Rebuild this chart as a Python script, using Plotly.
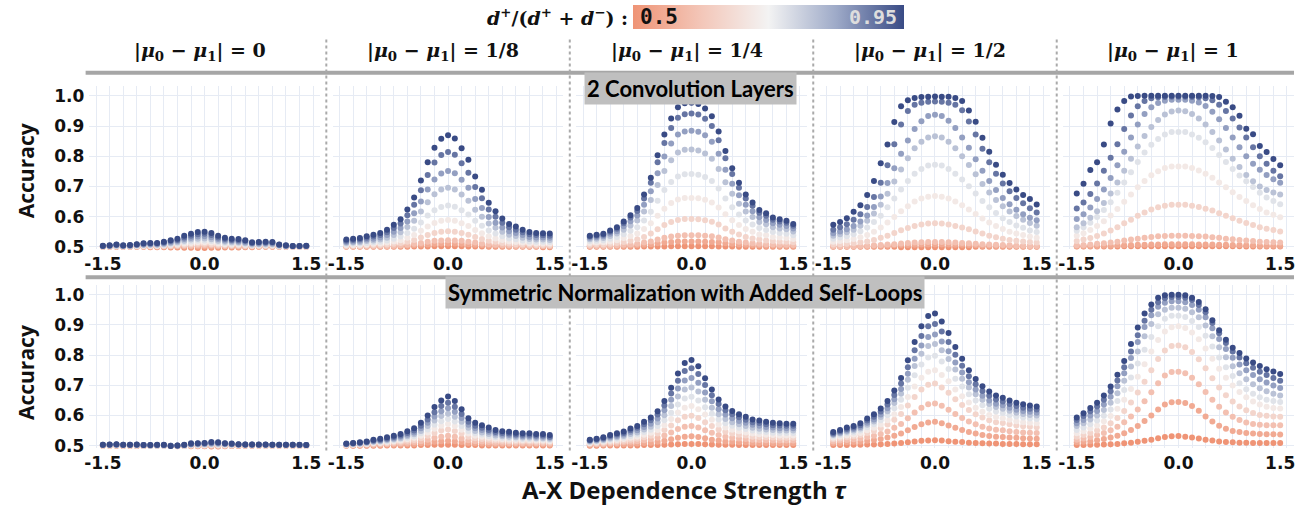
import plotly.graph_objects as go

# ---------------- data ----------------
tau = [-1.5, -1.4, -1.3, -1.2, -1.1, -1.0, -0.9, -0.8, -0.7, -0.6, -0.5, -0.4, -0.3, -0.2, -0.1,
       0.0, 0.1, 0.2, 0.3, 0.4, 0.5, 0.6, 0.7, 0.8, 0.9, 1.0, 1.1, 1.2, 1.3, 1.4, 1.5]
homophily = [0.5, 0.55, 0.6, 0.65, 0.7, 0.75, 0.8, 0.85, 0.9, 0.95]
mu_labels = ["0", "1/8", "1/4", "1/2", "1"]
row_titles = ["2 Convolution Layers", "Symmetric Normalization with Added Self-Loops"]
x_tick_vals = [-1.5, 0.0, 1.5]
x_tick_text = ["-1.5", "0.0", "1.5"]
y_tick_vals = [0.5, 0.6, 0.7, 0.8, 0.9, 1.0]
y_tick_text = ["0.5", "0.6", "0.7", "0.8", "0.9", "1.0"]

# accuracy (x1000); one list per homophily level, 0.5 -> 0.95
conv_mu_0 = [
    [500,500,500,500,500,500,500,499,499,499,498,498,497,497,496,496,497,497,498,498,498,499,499,500,500,500,500,500,500,500,500],
    [500,500,500,500,500,500,500,500,500,500,501,501,501,501,501,502,501,501,501,501,500,500,500,500,500,500,500,500,500,500,500],
    [500,500,501,500,501,501,501,501,501,502,502,503,504,504,505,505,505,504,503,503,503,502,502,502,502,502,501,500,500,500,500],
    [501,501,502,501,501,502,502,503,503,503,504,505,507,509,510,510,509,507,506,505,505,504,503,503,503,503,502,501,501,501,501],
    [501,502,502,502,502,503,504,504,504,505,507,508,511,513,515,515,514,511,509,508,508,507,505,505,505,505,502,502,501,501,501],
    [502,502,503,502,503,504,505,505,505,507,509,511,516,518,521,521,519,516,513,511,511,509,506,507,507,507,503,502,501,501,502],
    [502,503,504,503,503,505,507,507,507,509,512,515,520,524,527,528,525,520,517,515,514,512,508,509,509,509,504,503,502,502,502],
    [503,504,506,504,504,506,508,509,509,512,515,519,526,530,534,535,532,526,521,519,518,515,511,511,512,511,506,504,502,502,503],
    [503,504,507,504,505,508,510,511,511,514,519,523,531,537,542,543,539,531,526,523,522,519,513,514,514,514,507,504,503,503,503],
    [504,505,508,505,506,509,512,513,513,517,522,527,537,543,549,550,546,537,530,527,526,522,515,516,517,516,508,505,503,503,504],
]
conv_mu_1_8 = [
    [500,500,500,500,500,500,500,500,500,500,501,501,501,502,502,502,502,502,501,501,501,500,500,500,500,500,500,500,500,499,499],
    [501,501,501,501,501,501,502,502,503,504,505,507,508,510,511,511,511,510,509,507,506,504,504,503,502,502,502,501,501,501,501],
    [501,502,502,502,502,503,503,504,505,507,510,513,517,520,521,522,521,520,517,514,511,509,507,506,505,504,503,503,503,503,503],
    [503,504,504,505,506,506,508,510,513,517,523,531,539,546,550,552,550,546,540,533,526,520,517,513,511,509,508,507,506,506,506],
    [506,506,507,508,510,511,514,518,522,530,539,553,567,579,586,589,586,578,569,556,545,535,528,523,518,516,514,512,511,511,511],
    [509,510,511,513,515,517,521,527,534,546,560,581,604,621,632,637,633,621,607,586,570,554,544,535,528,525,521,518,517,517,516],
    [513,514,515,519,521,524,530,539,548,566,586,617,648,674,690,696,690,673,653,623,600,577,563,550,540,536,530,526,524,524,523],
    [516,518,520,524,527,531,539,550,562,584,611,650,690,723,743,751,744,722,696,658,629,599,580,564,552,546,539,533,531,531,530],
    [520,523,525,530,534,539,548,562,577,605,639,687,738,779,804,814,805,777,745,698,661,624,600,580,565,557,548,542,539,538,537],
    [524,527,529,535,540,546,557,573,591,624,663,720,780,828,858,869,859,826,788,733,689,646,618,594,576,567,557,549,546,545,544],
]
conv_mu_1_4 = [
    [500,500,500,500,500,500,500,500,501,501,501,501,502,502,502,502,502,502,502,501,501,501,500,500,500,500,500,500,500,500,500],
    [501,502,502,502,502,503,504,505,507,509,512,514,516,518,518,518,518,517,516,515,512,510,508,507,506,505,504,504,503,503,503],
    [503,503,503,504,505,507,508,510,514,518,524,530,534,537,538,538,538,537,535,531,525,521,517,514,512,510,509,508,507,507,506],
    [507,508,508,510,513,516,520,525,533,544,558,572,582,589,592,592,591,588,583,574,561,550,541,533,528,524,521,519,518,517,515],
    [513,514,515,518,522,529,536,544,559,578,603,626,645,657,662,662,661,656,647,630,608,588,572,559,550,541,538,533,531,529,526],
    [519,520,522,527,533,542,553,565,587,616,653,688,715,733,740,741,739,731,718,693,660,631,607,587,574,562,556,549,546,543,538],
    [525,527,529,536,544,557,571,587,617,655,705,751,787,812,821,822,819,809,792,758,714,676,643,617,599,582,575,565,561,558,551],
    [530,532,535,543,552,568,585,604,639,684,744,799,842,872,882,884,881,869,848,808,755,709,671,639,618,598,589,578,573,569,561],
    [534,537,540,550,560,578,597,619,660,712,780,844,893,927,939,941,938,924,900,853,793,741,696,660,636,613,603,590,584,580,570],
    [537,540,543,554,565,584,605,629,673,729,803,872,925,962,975,977,973,958,932,882,817,760,712,673,647,622,611,597,591,586,576],
]
conv_mu_1_2 = [
    [500,500,500,500,500,500,500,500,500,500,499,499,499,499,499,499,499,499,499,499,499,500,500,500,500,500,500,500,500,500,500],
    [501,501,501,501,502,502,502,503,504,505,506,506,507,508,508,508,508,508,507,507,506,505,504,504,503,503,502,502,502,502,501],
    [502,502,502,502,503,504,505,506,508,509,511,513,514,515,516,516,516,515,514,513,512,510,509,508,507,506,505,504,504,503,503],
    [508,509,510,512,515,518,523,530,537,546,555,562,569,574,577,578,577,574,569,564,558,551,544,537,532,527,523,520,518,516,514],
    [517,519,522,526,532,539,550,564,581,599,618,634,650,660,666,668,666,660,650,638,624,609,594,581,569,559,550,544,539,534,530],
    [527,531,535,542,552,564,582,603,631,660,690,718,742,758,769,772,769,758,742,723,701,677,652,631,612,595,582,571,563,554,549],
    [537,542,548,557,570,586,610,639,676,716,756,793,826,848,862,866,862,848,826,800,771,740,708,680,655,634,617,602,590,579,570],
    [545,551,558,569,584,604,632,667,711,760,808,852,890,916,933,937,933,917,893,862,828,790,752,718,688,662,641,623,608,596,588],
    [557,565,575,590,608,632,665,712,770,840,905,950,970,977,980,981,980,977,970,952,915,872,825,780,742,710,684,662,644,628,614],
    [573,582,595,616,638,672,718,777,839,913,965,985,993,996,997,998,997,997,993,983,951,914,861,815,772,739,711,690,672,658,640],
]
conv_mu_1 = [
    [501,501,501,501,501,501,501,502,502,502,502,502,502,502,502,502,502,502,502,502,502,502,502,502,502,501,501,501,501,501,501],
    [502,502,503,503,504,504,505,505,506,507,507,508,508,509,509,509,509,509,508,508,508,507,507,506,506,505,505,504,504,504,503],
    [505,506,508,510,512,514,517,521,524,527,530,533,535,536,537,537,537,536,535,534,532,530,527,525,523,521,519,517,516,515,514],
    [519,524,529,536,544,554,565,578,590,603,614,624,631,636,639,639,639,636,632,626,620,611,603,595,586,579,572,565,560,556,551],
    [537,545,556,569,585,604,625,649,673,697,718,737,750,761,766,766,766,761,753,742,729,713,697,681,665,652,638,625,614,606,598],
    [553,565,580,599,622,648,679,713,747,781,812,838,857,872,880,880,880,872,861,846,827,804,781,758,736,717,698,679,663,652,641],
    [565,578,596,618,645,677,713,752,792,832,867,897,920,938,948,951,949,940,925,905,880,852,822,792,764,738,717,700,688,680,673],
    [592,608,630,658,690,728,770,815,862,905,940,962,976,984,987,987,987,984,978,966,947,922,893,862,830,800,775,755,738,724,712],
    [627,647,675,710,752,795,840,890,935,965,983,992,995,996,997,997,997,996,995,992,985,970,950,925,895,862,830,800,775,752,734],
    [677,709,754,780,839,908,955,983,998,999,1000,1000,1000,1000,1000,1000,1000,1000,1000,1000,999,996,980,962,934,891,873,834,814,791,770],
]
norm_mu_0 = [
    [500,500,500,499,499,499,499,500,500,500,499,498,499,498,498,498,497,497,498,499,499,500,500,500,500,500,500,500,500,500,500],
    [500,500,500,500,500,499,500,500,500,500,499,499,499,499,499,499,499,499,499,499,500,500,500,500,500,500,500,500,500,500,500],
    [501,500,501,500,500,500,500,500,500,500,499,499,500,500,500,500,500,500,500,500,500,500,500,500,500,500,500,500,500,500,500],
    [501,501,501,501,501,501,500,500,500,500,499,500,500,501,501,501,502,501,501,501,501,501,501,501,501,501,501,501,501,501,501],
    [501,501,502,501,501,501,501,500,501,500,500,500,500,502,502,502,503,503,502,502,502,502,502,501,501,501,501,501,501,501,501],
    [502,502,502,502,502,502,501,501,501,501,500,500,501,503,503,503,504,504,504,503,503,502,502,502,502,502,502,502,502,501,501],
    [502,502,503,502,502,502,501,501,501,501,500,500,501,504,504,505,506,506,505,504,503,503,503,502,502,502,502,502,502,502,502],
    [502,503,503,502,502,503,502,501,502,502,500,500,502,505,506,506,508,508,506,505,504,503,503,503,503,503,502,502,502,502,502],
    [503,503,504,503,503,503,502,502,502,502,500,501,502,506,507,508,510,510,507,506,504,504,504,503,503,503,503,503,503,502,502],
    [503,504,505,503,503,504,502,502,503,503,499,501,503,508,508,509,512,511,508,507,505,504,504,504,504,503,503,503,503,503,502],
]
norm_mu_1_8 = [
    [500,500,500,500,500,500,501,501,501,501,501,502,502,503,503,503,503,502,502,502,501,501,501,501,501,501,501,501,501,501,501],
    [501,501,501,501,502,502,503,503,504,505,506,508,510,513,515,516,515,512,509,508,507,506,505,505,505,504,504,504,504,504,503],
    [501,502,502,503,504,505,506,507,508,510,512,515,520,526,530,533,530,524,518,515,514,512,510,510,509,509,508,508,508,508,507],
    [502,503,504,505,507,508,509,511,513,516,519,525,533,542,550,554,549,540,530,525,522,520,517,516,515,514,514,514,513,513,512],
    [503,504,505,506,509,510,512,515,517,521,526,533,544,556,566,572,565,553,540,533,530,526,523,521,520,519,518,518,517,517,515],
    [504,505,506,508,511,512,515,518,521,526,531,541,554,569,581,588,580,565,549,541,537,532,528,526,525,523,522,522,521,521,519],
    [505,506,507,509,513,515,518,521,525,531,538,549,565,583,598,606,596,579,559,549,544,539,534,531,530,528,527,527,525,525,523],
    [505,507,508,511,515,517,521,525,530,536,544,558,576,597,614,624,612,592,569,558,552,546,540,536,535,533,531,531,530,530,527],
    [506,508,510,512,517,520,524,529,534,542,550,566,587,611,631,642,629,605,579,566,559,552,545,542,540,537,536,536,534,534,530],
    [507,509,511,514,520,523,528,533,539,548,558,576,600,628,650,663,648,621,591,576,568,560,552,548,546,543,541,541,539,539,535],
]
norm_mu_1_4 = [
    [500,500,501,501,501,501,501,501,502,502,502,503,504,505,506,506,506,505,504,503,503,503,502,502,502,502,502,502,502,502,502],
    [502,503,503,504,505,505,506,507,509,510,513,516,521,526,530,531,529,525,520,517,514,513,511,511,510,509,509,508,508,508,508],
    [505,505,506,508,509,511,513,515,518,521,526,534,544,555,563,565,560,551,543,535,530,526,524,522,520,519,518,517,517,517,517],
    [507,508,510,512,514,516,520,523,528,533,540,552,567,584,596,599,592,578,565,554,546,540,536,534,530,529,528,527,526,526,526],
    [509,511,513,516,519,522,526,530,536,543,552,568,588,610,626,631,621,603,586,570,560,553,548,544,540,538,536,535,534,534,534],
    [511,513,516,520,523,527,532,537,545,553,565,584,609,636,656,662,650,627,606,587,574,566,559,555,550,547,545,543,542,542,542],
    [514,516,519,524,528,532,539,544,554,563,578,601,631,663,686,693,679,652,626,604,588,578,571,565,559,556,554,552,550,550,550],
    [516,518,522,528,532,537,545,551,562,573,590,617,652,689,716,724,708,676,647,621,603,591,582,576,569,566,562,560,558,558,558],
    [518,521,525,532,537,542,551,559,571,584,603,633,673,715,747,756,737,701,667,638,617,604,594,586,578,575,571,568,567,566,566],
    [520,523,528,535,541,547,557,565,579,593,614,648,692,739,774,784,763,723,686,653,630,615,604,596,587,583,579,576,574,573,573],
]
norm_mu_1_2 = [
    [502,502,502,503,503,504,504,505,506,507,509,511,514,516,517,518,517,515,513,512,510,509,508,507,507,506,506,506,505,505,505],
    [508,509,511,512,513,516,519,522,527,533,540,551,562,571,577,579,574,567,559,552,545,540,535,532,530,529,527,526,525,524,523],
    [514,517,519,521,524,529,533,539,547,559,572,591,610,626,637,640,632,619,605,592,580,571,563,557,553,551,548,545,544,543,542],
    [521,524,528,531,535,542,549,558,570,586,605,633,661,686,702,706,693,675,654,635,618,604,593,584,578,575,571,567,564,563,561],
    [526,530,534,537,542,551,559,570,584,604,628,661,696,725,745,750,734,713,686,664,643,626,612,602,595,591,586,581,578,576,574],
    [531,535,541,544,550,561,571,584,601,624,652,692,733,769,792,798,779,754,722,696,670,650,634,622,613,608,602,597,593,590,588],
    [535,540,546,550,557,569,580,595,614,641,672,718,764,804,830,837,816,787,752,722,693,670,652,638,628,622,616,609,605,602,600],
    [538,544,550,555,562,576,587,603,624,654,688,738,788,832,860,868,845,813,775,742,710,686,665,650,639,634,626,619,615,612,609],
    [541,548,555,560,568,583,596,613,636,668,706,760,816,863,895,903,878,843,801,765,730,703,681,665,653,646,638,631,626,622,620],
    [545,552,560,565,574,590,604,623,648,683,724,783,843,895,929,938,911,873,827,788,750,721,697,679,666,659,650,642,637,633,630],
]
norm_mu_1 = [
    [502,502,503,503,504,505,506,508,510,513,516,520,525,529,531,532,530,527,524,520,517,514,512,511,510,510,509,509,509,509,509],
    [511,513,515,518,522,527,533,541,552,565,582,600,620,636,644,645,641,631,616,597,580,566,556,549,545,542,540,539,538,538,537],
    [520,524,529,535,542,551,563,578,597,620,647,677,707,732,744,745,740,725,703,678,652,629,610,596,585,577,572,569,568,568,568],
    [530,535,542,550,560,574,592,615,643,676,712,750,787,815,830,832,826,810,786,756,723,693,667,646,630,617,608,602,599,597,596],
    [541,548,557,567,581,598,622,652,688,728,770,812,850,878,892,895,890,875,852,822,788,755,725,699,678,660,646,636,629,625,623],
    [552,560,571,583,599,620,648,684,726,772,818,860,895,920,930,930,926,913,893,864,828,792,760,731,707,687,672,660,652,648,645],
    [565,574,587,600,618,642,674,715,762,812,862,903,935,950,957,957,953,942,925,898,862,826,793,763,740,720,703,690,680,672,666],
    [574,585,600,615,636,662,697,740,790,843,893,932,960,973,978,978,975,966,950,925,889,853,820,791,769,750,734,720,709,699,691],
    [585,598,614,630,652,680,716,760,812,866,914,950,975,988,992,992,990,982,966,942,906,872,840,812,792,773,758,745,734,724,715],
    [593,607,625,642,666,696,735,780,837,891,938,967,990,998,1000,1000,998,990,976,952,915,882,851,824,807,789,775,764,753,746,737],
]

panels = [
    [conv_mu_0, conv_mu_1_8, conv_mu_1_4, conv_mu_1_2, conv_mu_1],
    [norm_mu_0, norm_mu_1_8, norm_mu_1_4, norm_mu_1_2, norm_mu_1],
]
for row in panels:
    for p in row:
        assert len(p) == len(homophily)
        for s in p:
            assert len(s) == len(tau), len(s)

# ---------------- styling ----------------
W, H = 1299, 514
GRID = "#e6ebf4"
COLORSCALE = [[0.0, "rgb(239,148,118)"], [0.25, "rgb(243,198,184)"], [0.5, "rgb(243,243,243)"],
              [0.75, "rgb(158,170,200)"], [1.0, "rgb(57,75,133)"]]
TICKFONT = dict(family="DejaVu Sans", size=17, color="#111111", weight="bold")

def px_x(v):
    return v / W

def px_y(v):
    return 1 - v / H

col_center = [200.5 + 244.6 * c for c in range(5)]
half_w = 115.8
row_px = [(87, 253.2), (289, 455.2)]
y_range = [0.492, 1.0336]

fig = go.Figure()
layout = {}
for r in range(2):
    for c in range(5):
        idx = r * 5 + c + 1
        xa = "x" if idx == 1 else f"x{idx}"
        ya = "y" if idx == 1 else f"y{idx}"
        data = panels[r][c]
        for k, h in enumerate(homophily):
            fig.add_trace(go.Scatter(
                x=tau, y=[v / 1000 for v in data[k]], mode="markers",
                marker=dict(size=6, color=[h] * len(tau), coloraxis="coloraxis", line=dict(width=0)),
                xaxis=xa, yaxis=ya, showlegend=False, hoverinfo="skip", cliponaxis=False))
        top, bot = row_px[r]
        layout["xaxis" if idx == 1 else f"xaxis{idx}"] = dict(
            domain=[px_x(col_center[c] - half_w), px_x(col_center[c] + half_w)],
            range=[-1.7, 1.7], anchor=ya, tickvals=x_tick_vals, ticktext=x_tick_text,
            showgrid=False, zeroline=True, zerolinecolor=GRID, zerolinewidth=1,
            showline=False, ticks="", ticklabelstandoff=3,
            minor=dict(dtick=0.2, tick0=0, showgrid=True, gridcolor=GRID, gridwidth=1, ticks=""),
            tickfont=TICKFONT)
        layout["yaxis" if idx == 1 else f"yaxis{idx}"] = dict(
            domain=[px_y(bot), px_y(top)], range=y_range, anchor=xa,
            tickvals=y_tick_vals, ticktext=y_tick_text, showticklabels=(c == 0),
            showgrid=True, gridcolor=GRID, gridwidth=1, zeroline=False, showline=False, ticks="",
            ticklabelstandoff=4, tickfont=TICKFONT)

annotations = []
# colorbar label and end values
annotations.append(dict(x=px_x(628), y=px_y(17), xref="paper", yref="paper", xanchor="right", yanchor="middle",
                        showarrow=False,
                        text="<b><i>d</i><sup>+</sup>/(<i>d</i><sup>+</sup> + <i>d</i><sup>−</sup>) :</b>",
                        font=dict(family="DejaVu Serif", size=19, color="#111111")))
annotations.append(dict(x=px_x(636), y=px_y(17), xref="paper", yref="paper", xanchor="left", yanchor="middle",
                        showarrow=False, text="<b>0.5</b>",
                        font=dict(family="DejaVu Sans Mono", size=21, color="#111111")))
annotations.append(dict(x=px_x(898), y=px_y(17), xref="paper", yref="paper", xanchor="right", yanchor="middle",
                        showarrow=False, text="<b>0.95</b>",
                        font=dict(family="DejaVu Sans Mono", size=20, color="#dddddd")))
# column headers
for c, lab in enumerate(mu_labels):
    annotations.append(dict(x=px_x(col_center[c] - 5), y=px_y(52), xref="paper", yref="paper",
                            xanchor="center", yanchor="middle", showarrow=False,
                            text=f"<b>|<i>μ</i><sub>0</sub> − <i>μ</i><sub>1</sub>| = {lab}</b>",
                            font=dict(family="DejaVu Serif", size=19, color="#111111")))
# row titles
row_title_pos = [(689, 90), (683, 297)]
for r, t in enumerate(row_titles):
    annotations.append(dict(x=px_x(row_title_pos[r][0]), y=px_y(row_title_pos[r][1]), xref="paper", yref="paper",
                            xanchor="center", yanchor="middle", showarrow=False, text=f"<b>{t}</b>",
                            bgcolor="#bfbfbf", borderpad=2,
                            font=dict(family="Lato", size=22, color="#000000")))
# y titles
for yc in (173, 378):
    annotations.append(dict(x=px_x(21), y=px_y(yc), xref="paper", yref="paper", xanchor="center",
                            yanchor="middle", showarrow=False, textangle=-90, text="<b>Accuracy</b>",
                            font=dict(family="Open Sans", size=21, color="#111111")))
# x title
annotations.append(dict(x=px_x(683), y=px_y(497), xref="paper", yref="paper", xanchor="center",
                        yanchor="middle", showarrow=False,
                        text="<b>A-X Dependence Strength </b><b><i>τ</i></b>",
                        font=dict(family="Open Sans", size=24, color="#111111")))

shapes = []
for yl in (74, 281.7):
    shapes.append(dict(type="line", xref="paper", yref="paper", x0=px_x(81), x1=px_x(1295),
                       y0=px_y(yl), y1=px_y(yl), line=dict(color="#a6a6a6", width=4)))
for c in range(4):
    xm = (col_center[c] + col_center[c + 1]) / 2
    shapes.append(dict(type="line", xref="paper", yref="paper", x0=px_x(xm), x1=px_x(xm),
                       y0=px_y(40), y1=px_y(460), line=dict(color="#aaaaaa", width=2, dash="dot")))

fig.update_layout(
    width=W, height=H, margin=dict(l=0, r=0, t=0, b=0),
    paper_bgcolor="white", plot_bgcolor="white",
    coloraxis=dict(cmin=0.5, cmax=0.95, colorscale=COLORSCALE,
                   colorbar=dict(orientation="h", x=px_x(767.5), xanchor="center", y=px_y(5), yanchor="top",
                                 len=271, lenmode="pixels", thickness=24, thicknessmode="pixels",
                                 outlinewidth=0, showticklabels=False, ticks="", xpad=0, ypad=0)),
    annotations=annotations, shapes=shapes,
    **layout)

# remove the default page margin so the 1299x514 figure fills the window exactly
fig.write_html("out.html", config={"displayModeBar": False},
               post_script="document.body.style.margin='0px';")
